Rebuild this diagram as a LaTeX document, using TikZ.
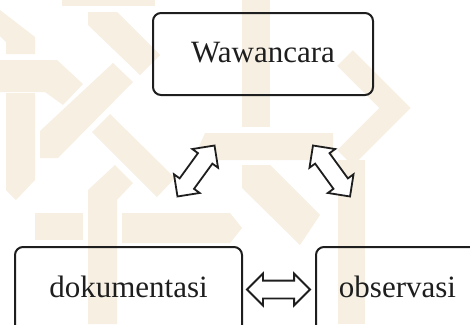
\documentclass[tikz,border=0pt]{standalone}
\usepackage{fontspec}
\setmainfont{Liberation Serif}
\usetikzlibrary{shapes.arrows}
\definecolor{wm}{HTML}{F6EFE2}
\definecolor{ink}{HTML}{1E1E1E}
\begin{document}
\begin{tikzpicture}[x=1pt,y=-1pt,
  wmk/.style={fill=wm,draw=none},
  box/.style={draw=ink,line width=2pt,rounded corners=8pt,font=\fontsize{31}{36}\selectfont,text=ink,text height=21pt,text depth=5pt,inner sep=0pt},
  dbl/.style={double arrow,draw=ink,fill=white,line width=1.8pt,minimum height=63pt,inner xsep=0pt,inner ysep=8pt,double arrow head extend=7pt,double arrow tip angle=90}]
\useasboundingbox (0,0) rectangle (470,324);
\clip (0,0) rectangle (470,324);
% watermark
\fill[wmk] (62,0) rectangle (155,6);
\fill[wmk] (0,10)--(35,37)--(35,54)--(6,54)--(6,42)--(0,36)--cycle;
\fill[wmk] (0,60)--(57,60)--(83,84)--(63,105)--(45,92)--(0,92)--cycle;
\fill[wmk] (6,93)--(35,93)--(35,180)--(16,200)--(6,190)--cycle;
\fill[wmk] (40,131)--(113,63)--(133,82)--(58,158)--(40,158)--cycle;
\fill[wmk] (88,12)--(117,12)--(160,55)--(140,75)--(88,25)--cycle;
\fill[wmk] (92,132)--(110,114)--(175,178)--(157,197)--cycle;
\fill[wmk] (88,190)--(115,165)--(133,183)--(117,200)--(117,324)--(88,324)--cycle;
\fill[wmk] (122,213)--(230,213)--(242,228)--(230,243)--(122,243)--cycle;
\fill[wmk] (35,213)--(83,213)--(83,240)--(35,240)--cycle;
\fill[wmk] (242,0) rectangle (270,127);
\fill[wmk] (193,160)--(205,133)--(333,133)--(333,160)--cycle;
\fill[wmk] (338,160) rectangle (365,324);
\draw[wm,line width=22pt,line join=miter] (345,58)--(395,108)--(345,158);
\fill[wmk] (242,165)--(270,165)--(320,215)--(300,245)--(242,188)--cycle;
% diagram
\node[box,minimum width=220pt,minimum height=82pt] (w) at (263,54) {Wawancara};
\node[box,text depth=7pt,minimum width=227pt,minimum height=86pt] (d) at (128.5,290) {dokumentasi};
\node[box,text depth=7pt,minimum width=163pt,minimum height=86pt] (o) at (397.5,290) {observasi};
\node[dbl] (dh) at (278.5,289.5) {};
\node[dbl,rotate=54] (dl) at (196,171) {};
\node[dbl,rotate=-54] (dr) at (331.5,171) {};
\end{tikzpicture}
\end{document}
